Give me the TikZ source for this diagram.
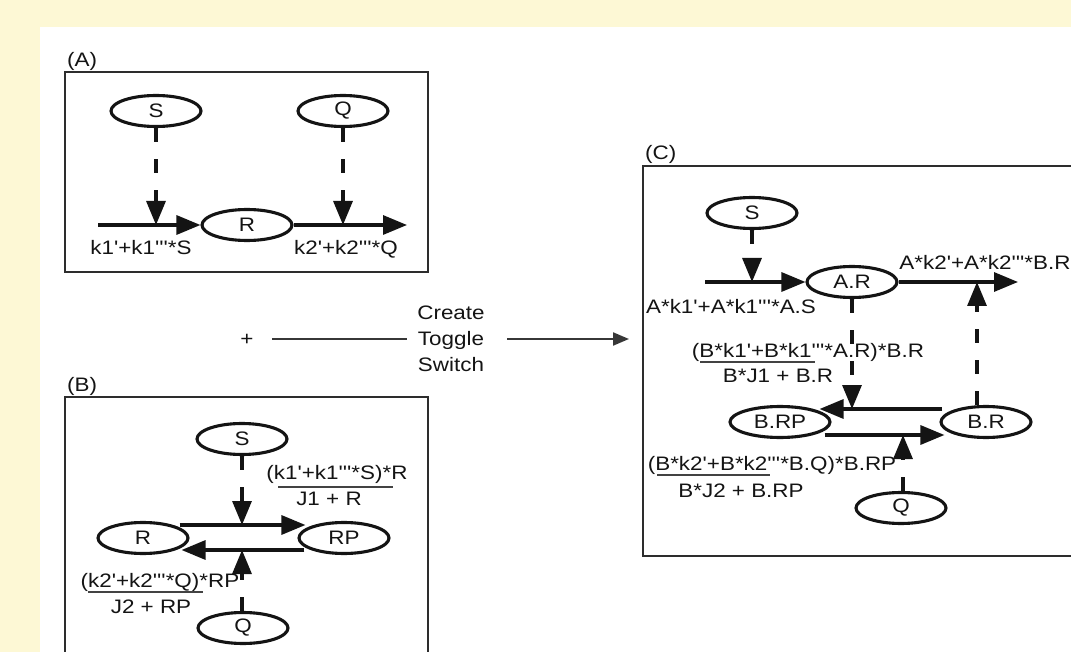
\documentclass[tikz,border=0pt]{standalone}
\usepackage{fontspec}
\setmainfont{Liberation Sans}[FakeStretch=1.15,Ligatures=TeXOff]
\usetikzlibrary{arrows.meta,shapes.geometric,calc}
\definecolor{bgyellow}{RGB}{253,248,213}
\definecolor{ink}{RGB}{20,20,20}
\definecolor{frame}{RGB}{45,45,45}
\begin{document}
\begin{tikzpicture}[x=1pt,y=-1pt,
  font=\fontsize{19.5}{26}\selectfont, text=ink,
  spec/.style={ellipse, draw=ink, line width=3.1pt, minimum width=90pt, minimum height=31pt, inner sep=0pt, fill=white},
  flow/.style={draw=ink, line width=3.2pt, -{Triangle[length=24pt,width=19pt]}},
  modi/.style={draw=ink, line width=3.2pt, dash pattern=on 14pt off 17pt, -{Triangle[length=24pt,width=19pt]}},
  panel/.style={draw=frame, line width=1.7pt},
  lab/.style={inner sep=0pt, anchor=base},
  fracline/.style={draw=ink!80, line width=1.4pt},
  guide/.style={draw=ink!85, line width=2pt}]
\useasboundingbox (0,0) rectangle (1071,652);
\clip (0,0) rectangle (1071,652);
\fill[bgyellow] (0,0) rectangle (1071,652);
\fill[white] (40,27) rectangle (1071,652);

% ---------- Panel A ----------
\draw[panel] (65,72) rectangle (428,272);
\node[lab, anchor=base west] (labA) at (67,67) {(A)};
\node[spec] (aS) at (156,111) {S};
\node[spec] (aQ) at (343,111) {Q};
\node[spec] (aR) at (247,225) {R};
\coordinate (aIn) at (98,225);
\coordinate (aOut) at (407,225);
\draw[flow] (aIn) -- (aR);
\draw[flow] (aR) -- (aOut);
\coordinate (aM1) at (156,225);
\coordinate (aM2) at (343,225);
\draw[modi] (aS) -- (aM1);
\draw[modi] (aQ) -- (aM2);
\node[lab] (aK1) at (141,255) {k1'+k1'''*S};
\node[lab] (aK2) at (346,255) {k2'+k2'''*Q};

% ---------- Create Toggle Switch ----------
\node[inner sep=0pt] (plus) at (247,340) {+};
\node[align=center, inner sep=0pt] (ct) at (451,339) {Create\\Toggle\\Switch};
\coordinate (g1) at (272,339);
\coordinate (g2) at (407,339);
\coordinate (g3) at (507,339);
\coordinate (g4) at (629,339);
\draw[guide] (g1) -- (g2);
\draw[guide, -{Triangle[length=16pt,width=13pt]}] (g3) -- (g4);

% ---------- Panel B ----------
\draw[panel] (65,397) rectangle (428,700);
\node[lab, anchor=base west] (labB) at (67,391) {(B)};
\node[spec] (bS) at (242,439) {S};
\node[spec] (bR) at (143,538) {R};
\node[spec] (bRP) at (344,538) {RP};
\node[spec] (bQ) at (243,628) {Q};
\coordinate (bT1) at ($(bR.east)+(-10,-13)$);
\coordinate (bT2) at ($(bRP.west)+(8,-13)$);
\coordinate (bB1) at ($(bRP.west)+(7,12)$);
\coordinate (bB2) at ($(bR.east)+(-8,12)$);
\draw[flow] (bT1) -- (bT2);
\draw[flow] (bB1) -- (bB2);
\node[lab] (bK1) at (337,479) {(k1'+k1'''*S)*R};
\draw[fracline] (278,487) -- (393,487);
\node[lab] (bJ1) at (329,505) {J1 + R};
\node[lab] (bK2) at (160,587) {(k2'+k2'''*Q)*RP};
\draw[fracline] (88,592) -- (203,592);
\node[lab] (bJ2) at (151,613) {J2 + RP};
\coordinate (bMt) at (242,525);
\coordinate (bMb) at (242,550);
\draw[modi] (bS.south -| bMt) -- (bMt);
\draw[modi] (bQ.north -| bMb) -- (bMb);

% ---------- Panel C ----------
\draw[panel] (643,166) rectangle (1100,556);
\node[lab, anchor=base west] (labC) at (645,160) {(C)};
\node[spec] (cS) at (752,213) {S};
\node[spec] (cAR) at (852,282) {A.R};
\node[spec, minimum width=100pt] (cBRP) at (780,422) {B.RP};
\node[spec] (cBR) at (986,422) {B.R};
\node[spec] (cQ) at (901,508) {Q};
\coordinate (cIn) at (705,282);
\coordinate (cOut) at (1018,282);
\draw[flow] (cIn) -- (cAR);
\draw[flow] (cAR) -- (cOut);
\node[lab] (cK1) at (731,313) {A*k1'+A*k1'''*A.S};
\node[lab] (cK2) at (985,270) {A*k2'+A*k2'''*B.R};
\node[lab] (cF1) at (808,357) {(B*k1'+B*k1'''*A.R)*B.R};
\draw[fracline] (700,362) -- (815,362);
\node[lab] (cG1) at (778,382) {B*J1 + B.R};
\node[lab] (cF2) at (772,470) {(B*k2'+B*k2'''*B.Q)*B.RP};
\draw[fracline] (657,475) -- (770,475);
\node[lab] (cG2) at (741,497) {B*J2 + B.RP};
\coordinate (cT1) at ($(cBR.west)+(3,-13)$);
\coordinate (cT2) at ($(cBRP.east)+(-12,-13)$);
\coordinate (cB1) at ($(cBRP.east)+(-7,13)$);
\coordinate (cB2) at ($(cBR.west)+(5,13)$);
\draw[flow] (cT1) -- (cT2);
\draw[flow] (cB1) -- (cB2);
\coordinate (cM1) at (752,282);
\coordinate (cM2) at (852,409);
\coordinate (cM3) at (977,282);
\coordinate (cM4) at (903,435);
\draw[modi] (cS) -- (cM1);
\draw[modi] (cAR) -- (cM2);
\draw[modi] (cBR.north -| cM3) -- (cM3);
\draw[modi] (cQ.north -| cM4) -- (cM4);
\end{tikzpicture}
\end{document}
